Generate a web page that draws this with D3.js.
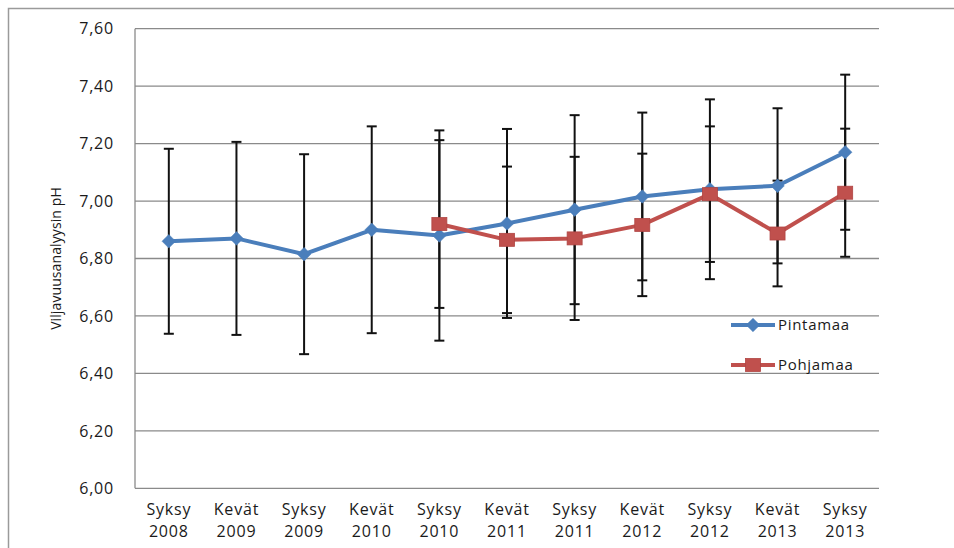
<!DOCTYPE html>
<html>
<head>
<meta charset="utf-8">
<script src="https://cdn.jsdelivr.net/npm/d3@7"></script>
<style>
  html, body { margin: 0; padding: 0; background: #fff; }
  svg { display: block; }
  text { font-family: "Open Sans", sans-serif; fill: #1a1a1a; }
</style>
</head>
<body>
<svg id="chart" width="954" height="548"></svg>
<script>
// Sampling rounds (season + year)
const categories = ["Syksy 2008", "Kevät 2009", "Syksy 2009", "Kevät 2010", "Syksy 2010",
  "Kevät 2011", "Syksy 2011", "Kevät 2012", "Syksy 2012", "Kevät 2013", "Syksy 2013"];

// Mean soil pH, topsoil
const pintamaa = [6.86, 6.87, 6.815, 6.90, 6.88, 6.922, 6.97, 7.016, 7.041, 7.053, 7.17];
// Standard deviation, topsoil
const pintamaaSd = [0.322, 0.336, 0.348, 0.36, 0.366, 0.329, 0.329, 0.292, 0.313, 0.27, 0.27];

// Mean soil pH, subsoil (measured from autumn 2010 onwards)
const pohjamaa = [null, null, null, null, 6.92, 6.865, 6.87, 6.917, 7.024, 6.887, 7.029];
// Standard deviation, subsoil
const pohjamaaSd = [null, null, null, null, 0.292, 0.255, 0.284, 0.248, 0.236, 0.184, 0.223];

const yTicks = [6.0, 6.2, 6.4, 6.6, 6.8, 7.0, 7.2, 7.4, 7.6];

const seriesNames = ["Pintamaa", "Pohjamaa"];
const seriesColors = ["#4A7EBB", "#C0504D"];

const svg = d3.select("#chart");
const plot = { left: 135, right: 879, top: 28.7, bottom: 488.3 };

const fiLocale = d3.formatLocale({ decimal: ",", thousands: " ", grouping: [3], currency: ["", " €"] });
const fmt = fiLocale.format(".2f");

const x = d3.scalePoint().domain(categories).range([plot.left, plot.right]).padding(0.5);
const y = d3.scaleLinear().domain([6.0, 7.6]).range([plot.bottom, plot.top]);

// Outer chart frame
svg.append("rect")
  .attr("x", 8.5).attr("y", 8.5)
  .attr("width", 960).attr("height", 560)
  .attr("fill", "none").attr("stroke", "#9a9a9a").attr("stroke-width", 1.5);

// Horizontal gridlines
svg.append("g").selectAll("line").data(yTicks).join("line")
  .attr("x1", plot.left).attr("x2", plot.right)
  .attr("y1", d => y(d)).attr("y2", d => y(d))
  .attr("stroke", "#8a8a8a").attr("stroke-width", 1.3);

// Value axis line
svg.append("line")
  .attr("x1", plot.left).attr("x2", plot.left)
  .attr("y1", plot.top).attr("y2", plot.bottom)
  .attr("stroke", "#8a8a8a").attr("stroke-width", 1.3);

// Y tick labels
svg.append("g").selectAll("text").data(yTicks).join("text")
  .attr("x", 114).attr("y", d => y(d)).attr("dy", "0.36em")
  .attr("text-anchor", "end")
  .style("font-size", "16px").style("letter-spacing", "0.8px")
  .text(d => fmt(d));

// Y axis title
svg.append("text")
  .attr("transform", `translate(61, ${(plot.top + plot.bottom) / 2}) rotate(-90)`)
  .attr("text-anchor", "middle")
  .style("font-size", "14px").style("letter-spacing", "0.1px")
  .text("Viljavuusanalyysin pH");

// Category labels: season on the first line, year on the second
const xAxisG = svg.append("g").attr("text-anchor", "middle")
  .style("font-size", "16px").style("letter-spacing", "0.8px");
xAxisG.selectAll("text.season").data(categories).join("text")
  .attr("class", "season")
  .attr("x", d => x(d)).attr("y", 515.2)
  .text(d => d.split(" ")[0]);
xAxisG.selectAll("text.year").data(categories).join("text")
  .attr("class", "year")
  .attr("x", d => x(d)).attr("y", 537.4)
  .text(d => d.split(" ")[1]);

const seriesData = [
  { name: seriesNames[0], color: seriesColors[0], values: pintamaa, sd: pintamaaSd, marker: "diamond" },
  { name: seriesNames[1], color: seriesColors[1], values: pohjamaa, sd: pohjamaaSd, marker: "square" }
];

// Error bars (± standard deviation)
const capHalf = 5;
seriesData.forEach(s => {
  const pts = categories.map((c, i) => ({ c, v: s.values[i], e: s.sd[i] })).filter(p => p.v != null);
  const g = svg.append("g").attr("stroke", "#111").attr("stroke-width", 2);
  g.selectAll("line.bar").data(pts).join("line")
    .attr("x1", p => x(p.c)).attr("x2", p => x(p.c))
    .attr("y1", p => y(p.v + p.e)).attr("y2", p => y(p.v - p.e));
  g.selectAll("line.top").data(pts).join("line")
    .attr("x1", p => x(p.c) - capHalf).attr("x2", p => x(p.c) + capHalf)
    .attr("y1", p => y(p.v + p.e)).attr("y2", p => y(p.v + p.e));
  g.selectAll("line.bot").data(pts).join("line")
    .attr("x1", p => x(p.c) - capHalf).attr("x2", p => x(p.c) + capHalf)
    .attr("y1", p => y(p.v - p.e)).attr("y2", p => y(p.v - p.e));
});

function drawMarker(sel, kind, color) {
  if (kind === "diamond") {
    sel.append("path")
      .attr("d", "M0,-6.8L6.8,0L0,6.8L-6.8,0Z")
      .attr("fill", color).attr("stroke", color).attr("stroke-width", 0.5);
  } else {
    sel.append("rect")
      .attr("x", -7.5).attr("y", -6.5).attr("width", 15).attr("height", 13)
      .attr("fill", color).attr("stroke", "#b04543").attr("stroke-width", 0.8);
  }
}

// Series lines and markers
const line = d3.line().defined(p => p.v != null).x(p => x(p.c)).y(p => y(p.v));
seriesData.forEach(s => {
  const pts = categories.map((c, i) => ({ c, v: s.values[i] }));
  svg.append("path").datum(pts)
    .attr("d", line)
    .attr("fill", "none").attr("stroke", s.color)
    .attr("stroke-width", 4).attr("stroke-linejoin", "round");
  svg.append("g").selectAll("g").data(pts.filter(p => p.v != null)).join("g")
    .attr("transform", p => `translate(${x(p.c)},${y(p.v)})`)
    .each(function () { drawMarker(d3.select(this), s.marker, s.color); });
});

// Legend
const legendY = [325, 365];
seriesData.forEach((s, i) => {
  const g = svg.append("g").attr("transform", `translate(0, ${legendY[i]})`);
  g.append("line").attr("x1", 731).attr("x2", 775).attr("y1", 0).attr("y2", 0)
    .attr("stroke", s.color).attr("stroke-width", 4);
  const m = g.append("g").attr("transform", "translate(753,0)");
  drawMarker(m, s.marker, s.color);
  g.append("text").attr("x", 778).attr("y", 0).attr("dy", "0.36em")
    .style("font-size", "15px").style("letter-spacing", "0.7px")
    .text(s.name);
});
</script>
</body>
</html>
